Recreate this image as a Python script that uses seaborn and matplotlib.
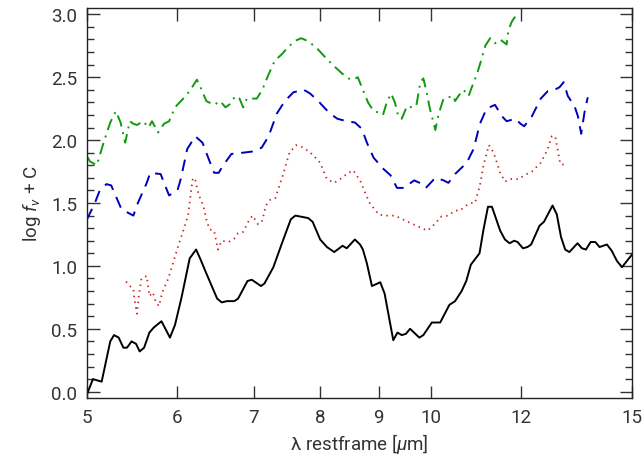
import numpy as np
import pandas as pd
import matplotlib
matplotlib.use("Agg")
import matplotlib.pyplot as plt
import seaborn as sns
from matplotlib.ticker import FixedLocator, MultipleLocator, NullLocator

# ---- data (wavelength in micron, log f_nu + C) ----
black_wl = [5.00, 5.01, 5.06, 5.15, 5.24, 5.28, 5.33, 5.38, 5.42, 5.47, 5.52, 5.56, 5.61, 5.67,
            5.72, 5.81, 5.91, 5.97, 6.05, 6.15, 6.23, 6.28, 6.36, 6.50, 6.56, 6.63, 6.73, 6.78,
            6.91, 6.97, 7.10, 7.15, 7.28, 7.40, 7.54, 7.61, 7.71, 7.81, 7.88, 8.00, 8.11, 8.23,
            8.37, 8.44, 8.58, 8.67, 8.72, 8.79, 8.88, 9.03, 9.11, 9.27, 9.35, 9.43, 9.51, 9.59,
            9.77, 9.85, 10.02, 10.19, 10.38, 10.50, 10.64, 10.74, 10.84, 11.03, 11.12, 11.22,
            11.31, 11.50, 11.61, 11.72, 11.83, 11.91, 12.04, 12.15, 12.24, 12.45, 12.56, 12.78,
            12.89, 13.00, 13.11, 13.22, 13.44, 13.56, 13.67, 13.80, 13.93, 14.05, 14.26, 14.40,
            14.55, 14.70, 15.00]
black_y = [-0.02, 0.00, 0.10, 0.08, 0.40, 0.45, 0.43, 0.35, 0.35, 0.40, 0.38, 0.32, 0.35, 0.47,
           0.51, 0.56, 0.43, 0.53, 0.75, 1.06, 1.13, 1.06, 0.94, 0.74, 0.71, 0.72, 0.72, 0.74,
           0.88, 0.89, 0.84, 0.86, 0.99, 1.17, 1.37, 1.40, 1.39, 1.38, 1.35, 1.21, 1.15, 1.11,
           1.16, 1.14, 1.21, 1.17, 1.13, 1.02, 0.84, 0.87, 0.78, 0.41, 0.47, 0.45, 0.46, 0.50,
           0.43, 0.45, 0.55, 0.55, 0.69, 0.72, 0.80, 0.88, 1.01, 1.10, 1.29, 1.47,
           1.47, 1.28, 1.21, 1.18, 1.20, 1.19, 1.14, 1.15, 1.17, 1.32, 1.35, 1.48,
           1.41, 1.23, 1.13, 1.11, 1.18, 1.14, 1.13, 1.19, 1.19, 1.15, 1.17, 1.12,
           1.04, 0.99, 1.09]

red_wl = [5.41, 5.45, 5.49, 5.50, 5.53, 5.55, 5.58, 5.64, 5.67, 5.71, 5.74, 5.78, 5.82, 5.89,
          5.95, 6.01, 6.09, 6.13, 6.17, 6.19, 6.22, 6.26, 6.32, 6.36, 6.40, 6.46, 6.51, 6.56,
          6.65, 6.72, 6.78, 6.85, 6.92, 6.98, 7.06, 7.12, 7.17, 7.24, 7.31, 7.40, 7.42, 7.52,
          7.62, 7.74, 7.89, 8.00, 8.11, 8.23, 8.33, 8.44, 8.55, 8.67, 8.76, 8.84, 9.00, 9.09,
          9.30, 9.40, 9.55, 9.71, 9.93, 10.02, 10.12, 10.19, 10.36, 10.50, 10.60, 10.74, 10.86,
          10.93, 11.04, 11.12, 11.24, 11.35, 11.50, 11.61, 11.75, 11.94, 12.07, 12.26, 12.48,
          12.66, 12.76, 12.85, 12.89, 12.98, 13.14]
red_y = [0.875, 0.84, 0.82, 0.74, 0.62, 0.76, 0.90, 0.92, 0.76, 0.79, 0.72, 0.68, 0.79, 0.90,
         1.03, 1.16, 1.32, 1.40, 1.61, 1.70, 1.68, 1.57, 1.48, 1.37, 1.29, 1.28, 1.13, 1.20,
         1.19, 1.21, 1.26, 1.27, 1.35, 1.40, 1.33, 1.36, 1.48, 1.53, 1.54, 1.69, 1.72, 1.90,
         1.96, 1.94, 1.88, 1.82, 1.69, 1.66, 1.69, 1.73, 1.76, 1.68, 1.58, 1.50, 1.41, 1.40,
         1.40, 1.38, 1.35, 1.32, 1.28, 1.31, 1.35, 1.39, 1.40, 1.44, 1.44, 1.48, 1.50,
         1.50, 1.64, 1.80, 1.96, 1.90, 1.74, 1.67, 1.69, 1.69, 1.72, 1.75, 1.82,
         1.93, 2.03, 2.03, 1.96, 1.81, 1.80]

blue_wl = [5.00, 5.08, 5.13, 5.20, 5.25, 5.36, 5.49, 5.54, 5.64, 5.68, 5.80, 5.87, 5.90, 6.00,
           6.04, 6.12, 6.22, 6.31, 6.39, 6.46, 6.52, 6.58, 6.69, 6.85, 6.99, 7.11, 7.21, 7.33,
           7.45, 7.58, 7.74, 7.84, 7.97, 8.14, 8.28, 8.44, 8.58, 8.70, 8.79, 8.91, 9.09, 9.22,
           9.34, 9.47, 9.67, 9.83, 9.90, 10.09, 10.26, 10.36, 10.50, 10.75, 10.90, 11.04, 11.19,
           11.38, 11.54, 11.65, 11.86, 11.98, 12.07, 12.26, 12.48, 12.66, 12.83, 12.96, 13.07,
           13.18, 13.36, 13.45, 13.54, 13.63, 13.72]
blue_y = [1.37, 1.50, 1.60, 1.65, 1.64, 1.45, 1.40, 1.50, 1.66, 1.74, 1.73, 1.61, 1.56, 1.60,
          1.69, 1.93, 2.03, 1.98, 1.85, 1.74, 1.74, 1.80, 1.89, 1.90, 1.91, 1.94, 2.03, 2.21,
          2.31, 2.38, 2.40, 2.37, 2.31, 2.22, 2.17, 2.15, 2.14, 2.09, 1.98, 1.86, 1.77, 1.72,
          1.62, 1.62, 1.68, 1.65, 1.62, 1.70, 1.68, 1.66, 1.73, 1.82, 1.93, 2.13, 2.25,
          2.28, 2.19, 2.15, 2.17, 2.13, 2.11, 2.19, 2.33, 2.39, 2.40, 2.42, 2.46,
          2.35, 2.27, 2.19, 2.05, 2.22, 2.34]

green_wl = [5.00, 5.03, 5.10, 5.17, 5.24, 5.30, 5.35, 5.40, 5.45, 5.49, 5.53, 5.60, 5.66, 5.70,
            5.77, 5.84, 5.90, 5.97, 6.07, 6.15, 6.24, 6.30, 6.36, 6.46, 6.54, 6.61, 6.68, 6.74,
            6.80, 6.85, 6.90, 7.04, 7.12, 7.20, 7.30, 7.40, 7.50, 7.61, 7.70, 7.79, 7.93, 8.06,
            8.20, 8.36, 8.47, 8.55, 8.63, 8.72, 8.81, 8.91, 9.00, 9.08, 9.15, 9.23, 9.30, 9.37,
            9.43, 9.53, 9.63, 9.71, 9.79, 9.85, 9.91, 9.98, 10.06, 10.09, 10.16, 10.26, 10.36,
            10.47, 10.50, 10.57, 10.68, 10.79, 10.86, 10.97, 11.08, 11.16, 11.27, 11.38, 11.50,
            11.65, 11.69, 11.77, 11.89]
green_y = [1.87, 1.83, 1.80, 1.98, 2.14, 2.23, 2.14, 1.98, 2.15, 2.13, 2.12, 2.15, 2.10, 2.15,
           2.06, 2.13, 2.15, 2.26, 2.33, 2.39, 2.48, 2.40, 2.31, 2.28, 2.31, 2.26, 2.29, 2.35,
           2.33, 2.26, 2.33, 2.33, 2.40, 2.51, 2.63, 2.68, 2.74, 2.79, 2.81, 2.79, 2.74, 2.67,
           2.60, 2.53, 2.49, 2.48, 2.50, 2.40, 2.30, 2.23, 2.22, 2.20, 2.30, 2.37, 2.30, 2.18,
           2.17, 2.27, 2.26, 2.27, 2.46, 2.49, 2.39, 2.25, 2.13, 2.08, 2.21, 2.33, 2.34,
           2.35, 2.31, 2.35, 2.40, 2.35, 2.42, 2.52, 2.65, 2.75, 2.81, 2.77, 2.80,
           2.76, 2.87, 2.94, 3.00]

xticks = [5, 6, 7, 8, 9, 10, 12, 15]
xtick_labels = ["5", "6", "7", "8", "9", "10", "12", "15"]

# ---- plot ----
sns.set_style("ticks")
plt.rcParams['font.family'] = ['Roboto', 'DejaVu Sans']
plt.rcParams['font.weight'] = 'normal'
plt.rcParams['mathtext.fontset'] = 'custom'
plt.rcParams['mathtext.rm'] = 'Roboto'
plt.rcParams['mathtext.it'] = 'Roboto:italic'
plt.rcParams['mathtext.fallback'] = 'stixsans'
fig = plt.figure(figsize=(6.44, 4.64), dpi=100)
ax = fig.add_axes([87/644, 1-399/464, (632-87)/644, (399-9)/464])

series = [
    (black_wl, black_y, "#000000", "-", None, 1.4),
    (red_wl, red_y, "#cc2222", ":", (0.8, 2.4), 1.3),
    (blue_wl, blue_y, "#0000bb", "--", (6, 4), 1.4),
    (green_wl, green_y, "#119911", "-.", (6, 3, 1, 3), 1.4),
]
for wl, yv, col, ls, dash, lw in series:
    df = pd.DataFrame({"wl": wl, "y": yv})
    sns.lineplot(data=df, x="wl", y="y", ax=ax, color=col, sort=False,
                 linewidth=lw, estimator=None)
    l = ax.lines[-1]
    l.set_linestyle(ls)
    if dash is not None:
        l.set_dashes(dash)

ax.set_xscale("log")
ax.set_xlim(5, 15)
ax.set_ylim(-0.05, 3.05)
ax.xaxis.set_major_locator(FixedLocator(xticks))
ax.xaxis.set_minor_locator(NullLocator())
ax.set_xticklabels(xtick_labels)
ax.yaxis.set_major_locator(MultipleLocator(0.5))
ax.yaxis.set_minor_locator(MultipleLocator(0.1))
ax.yaxis.set_major_formatter(matplotlib.ticker.FormatStrFormatter("%.1f"))
ax.tick_params(which="both", direction="in", top=True, right=True, labelsize=13.5, width=1,
               colors="#333333", labelcolor="#333333")
ax.tick_params(which="major", length=9, pad=7)
ax.tick_params(which="minor", length=5)
for s in ax.spines.values():
    s.set_linewidth(1.0)
    s.set_color("#222222")
ax.set_xlabel(r"λ restframe [$\mu$m]", fontsize=13.5, color="#333333", labelpad=4)
ax.set_ylabel(r"log $f_\nu$ + C", fontsize=13.5, color="#333333", labelpad=6)

fig.savefig("out.png", dpi=100)
